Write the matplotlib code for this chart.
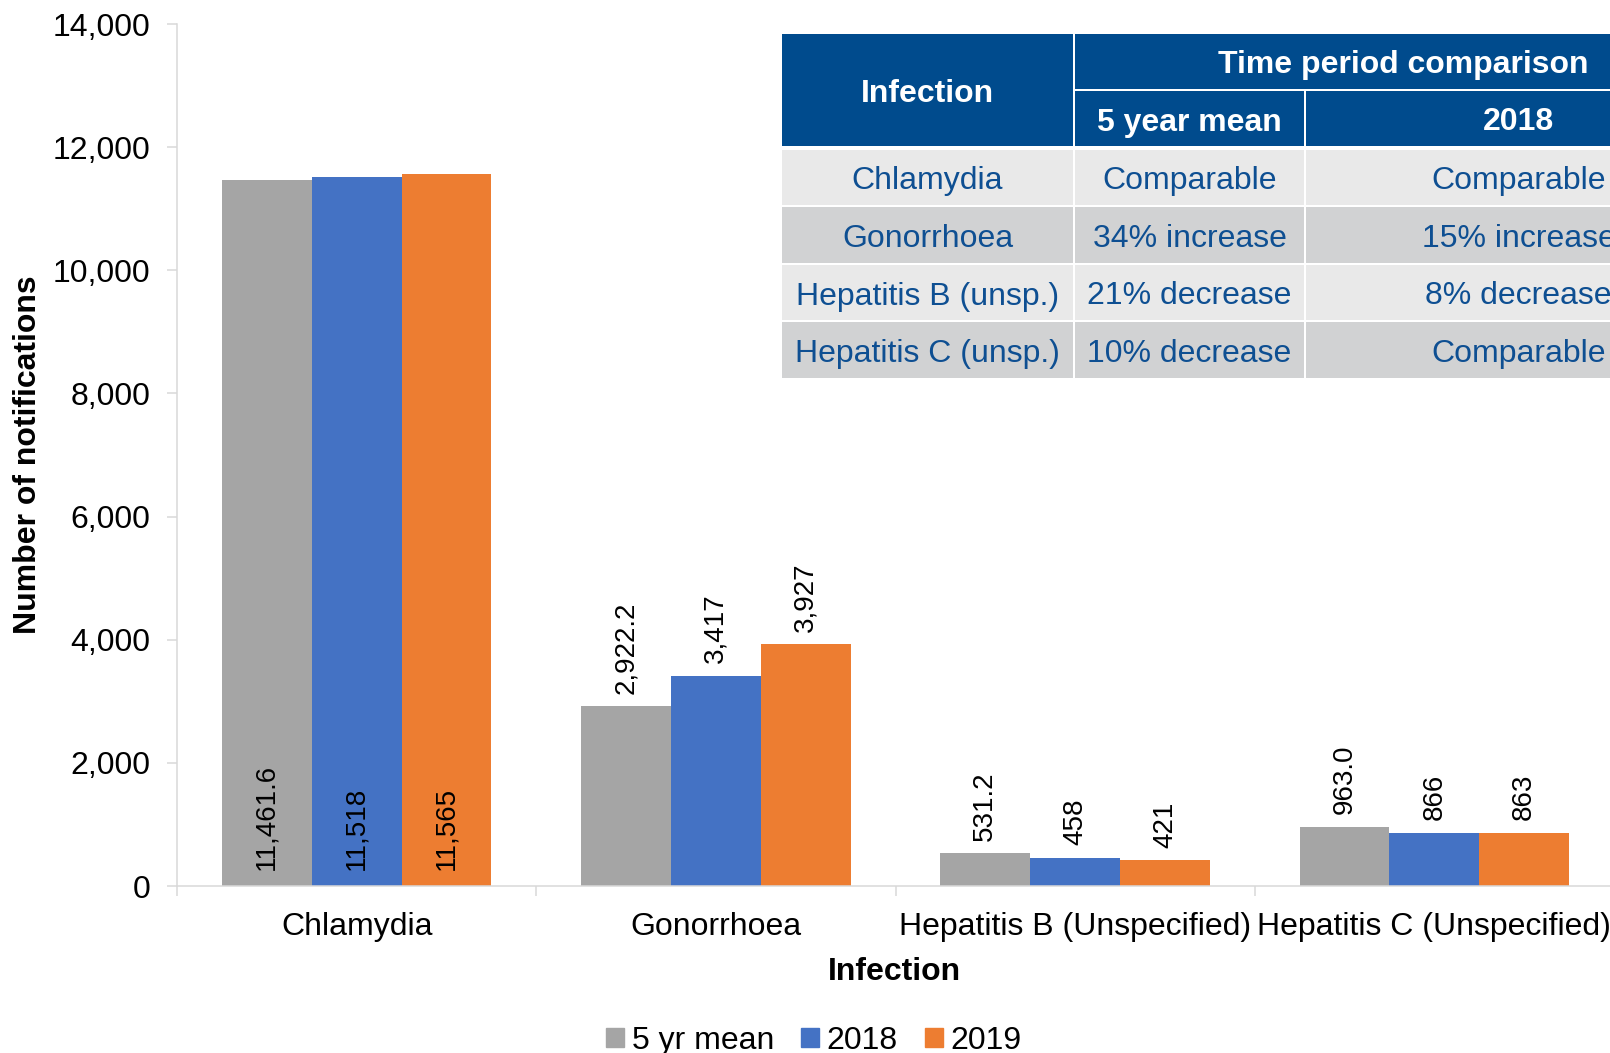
import matplotlib
matplotlib.use("Agg")
import matplotlib.pyplot as plt
from matplotlib.patches import Rectangle, Patch
from matplotlib.ticker import FuncFormatter
import numpy as np

plt.rcParams['font.family'] = ['Liberation Sans', 'DejaVu Sans']

categories = ["Chlamydia", "Gonorrhoea", "Hepatitis B (Unspecified)", "Hepatitis C (Unspecified)"]
series_names = ["5 yr mean", "2018", "2019"]
mean5 = [11461.6, 2922.2, 531.2, 963.0]
y2018 = [11518, 3417, 458, 866]
y2019 = [11565, 3927, 421, 863]
labels_mean5 = ["11,461.6", "2,922.2", "531.2", "963.0"]
labels_2018 = ["11,518", "3,417", "458", "866"]
labels_2019 = ["11,565", "3,927", "421", "863"]
colors = ["#A5A5A5", "#4472C4", "#ED7D31"]

table_header = ["Infection", "Time period comparison", "5 year mean", "2018"]
table_infections = ["Chlamydia", "Gonorrhoea", "Hepatitis B (unsp.)", "Hepatitis C (unsp.)"]
table_vs_mean = ["Comparable", "34% increase", "21% decrease", "10% decrease"]
table_vs_2018 = ["Comparable", "15% increase", "8% decrease", "Comparable"]

W, H = 1610, 1053
fig = plt.figure(figsize=(W / 100, H / 100), dpi=100)
ax = fig.add_axes([177 / W, 1 - 886 / H, (1614 - 177) / W, (886 - 24) / H])

x = np.arange(len(categories))
bw = 0.25
series = [mean5, y2018, y2019]
slabels = [labels_mean5, labels_2018, labels_2019]
for i, (vals, labs) in enumerate(zip(series, slabels)):
    pos = x + (i - 1) * bw
    ax.bar(pos, vals, width=bw, color=colors[i], label=series_names[i], zorder=2)
    for j, (p, v, lab) in enumerate(zip(pos, vals, labs)):
        if j == 0:
            ax.annotate(lab, (p, 0), xytext=(0, 11.5), textcoords="offset points",
                        rotation=90, ha="center", va="bottom", fontsize=20, color="black")
        else:
            ax.annotate(lab, (p, v), xytext=(0, 9), textcoords="offset points",
                        rotation=90, ha="center", va="bottom", fontsize=20, color="black")

ax.set_xlim(-0.5, 3.5)
ax.set_ylim(0, 14000)
ax.set_yticks(np.arange(0, 14001, 2000))
ax.yaxis.set_major_formatter(FuncFormatter(lambda v, p: f"{int(v):,}"))
ax.set_xticks(x)
ax.set_xticklabels(categories)
ax.set_xticks(np.arange(-0.5, 3.6, 1), minor=True)
ax.tick_params(axis="x", which="major", length=0, pad=19, labelsize=23)
ax.tick_params(axis="x", which="minor", length=7, width=1.1, color="#D9D9D9")
ax.tick_params(axis="y", length=7, width=1.1, color="#D9D9D9", pad=12, labelsize=23)
for s in ["top", "right"]:
    ax.spines[s].set_visible(False)
for s in ["left", "bottom"]:
    ax.spines[s].set_color("#D9D9D9")
    ax.spines[s].set_linewidth(1.1)

fig.text(28 / W, 1 - 455 / H, "Number of notifications", rotation=90, ha="center", va="center",
         fontsize=23, fontweight="bold")
fig.text(894 / W, 1 - 972 / H, "Infection", ha="center", va="center", fontsize=23, fontweight="bold")

handles = [Patch(color=c) for c in colors]
fig.legend(handles, series_names, loc="center", bbox_to_anchor=(814 / W, 1 - 1041 / H), ncol=3,
           frameon=False, fontsize=23, handlelength=0.55, handleheight=0.55, handletextpad=0.25,
           columnspacing=0.85, borderaxespad=0)

# Table overlay
tax = fig.add_axes([0, 0, 1, 1], zorder=5)
tax.set_xlim(0, W)
tax.set_ylim(H, 0)
tax.axis("off")
tax.patch.set_alpha(0)

hdr_blue = "#004B8D"
txt_blue = "#0E4F92"
light = "#E9E9E9"
dark = "#D1D2D3"
cols = [(782, 1073), (1075, 1304), (1306, 1731)]

def cell(x0, x1, y0, y1, fc, text, color, bold=False):
    tax.add_patch(Rectangle((x0, y0), x1 - x0, y1 - y0, facecolor=fc, edgecolor="none"))
    tax.text((x0 + x1) / 2, (y0 + y1) / 2 + 4, text, ha="center", va="center", fontsize=23,
             color=color, fontweight="bold" if bold else "normal")

cell(782, 1073, 34, 146, hdr_blue, table_header[0], "white", True)
cell(1075, 1731, 34, 89, hdr_blue, table_header[1], "white", True)
cell(1075, 1304, 91, 146, hdr_blue, table_header[2], "white", True)
cell(1306, 1731, 91, 146, hdr_blue, table_header[3], "white", True)

rows = [(150, 205), (207, 263), (265, 320), (322, 378)]
for r, (y0, y1) in enumerate(rows):
    fc = light if r % 2 == 0 else dark
    vals = [table_infections[r], table_vs_mean[r], table_vs_2018[r]]
    for (x0, x1), v in zip(cols, vals):
        cell(x0, x1, y0, y1, fc, v, txt_blue)

fig.savefig("out.png", dpi=100)
